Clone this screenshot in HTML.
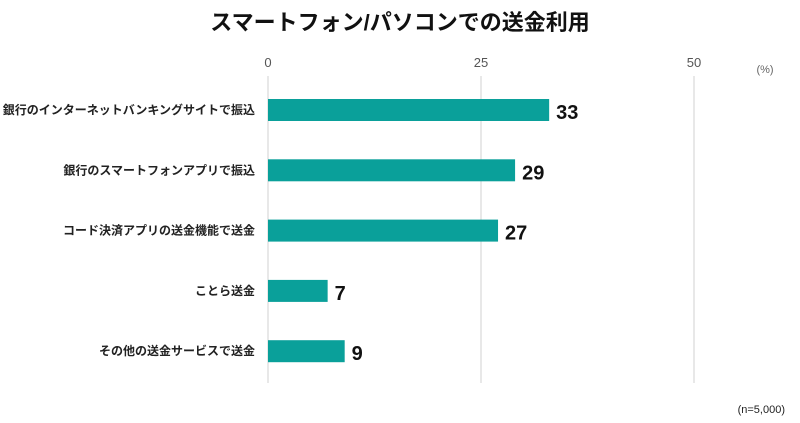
<!DOCTYPE html>
<html><head><meta charset="utf-8">
<style>
body{margin:0;background:#fff;}
svg{display:block;font-family:"Liberation Sans","Noto Sans CJK JP",sans-serif;}
</style></head>
<body>
<svg id="chart" width="800" height="423" viewBox="0 0 800 423">
<text x="400" y="30" text-anchor="middle" font-size="22" font-weight="bold" fill="#111">スマートフォン/パソコンでの送金利用</text>
<text x="765" y="73" text-anchor="middle" font-size="11" fill="#666">(%)</text>
<text x="785" y="413" text-anchor="end" font-size="11" fill="#222">(n=5,000)</text>
<g id="grid"></g><g id="bars"></g>
</svg>
<script>
const categories = ["銀行のインターネットバンキングサイトで振込","銀行のスマートフォンアプリで振込","コード決済アプリの送金機能で送金","ことら送金","その他の送金サービスで送金"];
const values = [33, 29, 27, 7, 9];
const ticks = [0, 25, 50];
const svg = document.getElementById('chart');
const grid = document.getElementById('grid');
const barsG = document.getElementById('bars');
const NS = "http://www.w3.org/2000/svg";
const x = v => 268 + v * 8.52;
const yc = i => 110 + i * 60.3;
ticks.forEach(t => {
  const l = document.createElementNS(NS, 'line');
  
  
  l.setAttribute('x1', x(t)); l.setAttribute('x2', x(t));
  l.setAttribute('y1', 76); l.setAttribute('y2', 383);
  l.setAttribute('stroke', '#d0d0d0'); l.setAttribute('stroke-width', 1);
  grid.appendChild(l);
  const tx = document.createElementNS(NS, 'text');
  
  
  tx.setAttribute('x', x(t)); tx.setAttribute('y', 67);
  tx.setAttribute('text-anchor', 'middle'); tx.setAttribute('font-size', 13); tx.setAttribute('fill', '#555');
  tx.textContent = t;
  grid.appendChild(tx);
});
categories.forEach((c, i) => {
  const r = document.createElementNS(NS, 'rect');
  
  
  r.setAttribute('x', x(0)); r.setAttribute('y', yc(i) - 11);
  r.setAttribute('width', x(values[i]) - x(0)); r.setAttribute('height', 22);
  r.setAttribute('fill', '#0aa09a');
  barsG.appendChild(r);
  const lb = document.createElementNS(NS, 'text');
  
  
  lb.setAttribute('x', 255); lb.setAttribute('y', yc(i) + 4);
  lb.setAttribute('text-anchor', 'end'); lb.setAttribute('font-size', 12); lb.setAttribute('font-weight', 'bold'); lb.setAttribute('fill', '#222');
  lb.textContent = c;
  barsG.appendChild(lb);
  const v = document.createElementNS(NS, 'text');
  
  
  v.setAttribute('x', x(values[i]) + 7); v.setAttribute('y', yc(i) + 9);
  v.setAttribute('font-size', 20); v.setAttribute('font-weight', 'bold'); v.setAttribute('fill', '#111');
  v.textContent = values[i];
  barsG.appendChild(v);
});
</script>
</body></html>
